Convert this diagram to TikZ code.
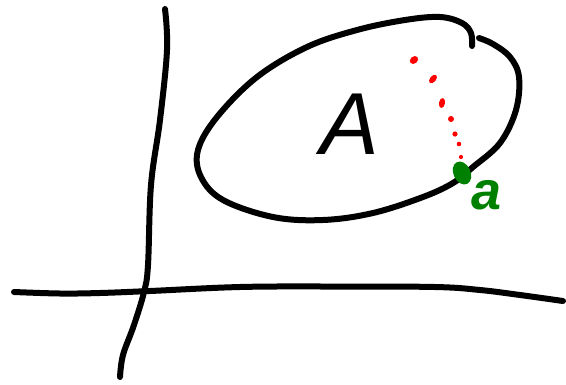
\documentclass[tikz,border=0pt]{standalone}
\usepackage{fontspec}
\setmainfont{Liberation Sans}
\definecolor{penred}{RGB}{255,0,0}
\definecolor{pengreen}{RGB}{0,128,0}
\tikzset{
  pen/.style={line width=6pt, line cap=round, line join=round, black},
  reddot/.style={fill=penred, draw=none},
}
\begin{document}
\begin{tikzpicture}[x=1pt,y=-1pt]
\useasboundingbox (0,0) rectangle (566,384);
% vertical axis
\draw[pen] plot[smooth, tension=0.6] coordinates {(165,9) (167,50) (160,120) (151,185) (148,265) (144,292) (134,325) (123,355) (120,377)};
% horizontal axis
\draw[pen] plot[smooth, tension=0.6] coordinates {(14,292) (60,293.5) (100,293) (150,291) (240,287) (330,286.5) (435,287) (480,290) (520,295) (563,301)};
% closed set with a small gap at top right
\draw[pen] plot[smooth, tension=0.6] coordinates {(472,46) (471,33) (462,23) (440,17) (405,20) (357,30) (307,47) (257,77) (217,117) (198,150) (201,177) (223,200) (273,217) (323,220) (373,213) (423,197) (453,183) (473,167) (500,143) (516,110) (519,77) (510,57) (493,44) (479,38)};
% label A
\node[font=\fontsize{88}{88}\selectfont\itshape, inner sep=0pt] (A) at (350,124) {A};
% red dotted segment
\fill[reddot, rotate around={40:(414,60)}] (414,60) ellipse (4.5pt and 3.5pt);
\fill[reddot, rotate around={50:(433,79)}] (433,79) ellipse (5pt and 3pt);
\fill[reddot, rotate around={80:(442,103)}] (442,103) ellipse (5pt and 3pt);
\fill[reddot] (451,119) circle (3pt);
\fill[reddot] (455,134) circle (2.6pt);
\fill[reddot] (459,144) circle (2.3pt);
\fill[reddot] (461,157) circle (2.1pt);
% green point and label
\fill[pengreen, rotate around={25:(462,173)}] (462,173) ellipse (8.5pt and 12pt);
\node[font=\fontsize{54}{54}\selectfont\bfseries\itshape, text=pengreen, inner sep=0pt] (a) at (487,195) {a};
\end{tikzpicture}
\end{document}
